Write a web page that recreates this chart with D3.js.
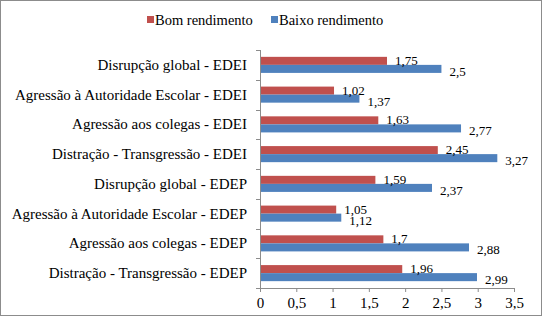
<!DOCTYPE html>
<html>
<head>
<meta charset="utf-8">
<script src="https://cdn.jsdelivr.net/npm/d3@7"></script>
</head>
<body style="margin:0">
<div id="chart"></div>
<script>
// data
var categories = [
  "Disrupção global - EDEI",
  "Agressão à Autoridade Escolar - EDEI",
  "Agressão aos colegas - EDEI",
  "Distração - Transgressão - EDEI",
  "Disrupção global - EDEP",
  "Agressão à Autoridade Escolar - EDEP",
  "Agressão aos colegas - EDEP",
  "Distração - Transgressão - EDEP"
];
var bom = [1.75, 1.02, 1.63, 2.45, 1.59, 1.05, 1.7, 1.96];
var baixo = [2.5, 1.37, 2.77, 3.27, 2.37, 1.12, 2.88, 2.99];
var seriesNames = ["Bom rendimento", "Baixo rendimento"];
var xTicks = [0, 0.5, 1, 1.5, 2, 2.5, 3, 3.5];

var width = 542, height = 316;
var margin = {top: 50, right: 28, bottom: 28, left: 260};
var colours = ["#C0504D", "#4F81BD"];
var font = "Liberation Serif";
var fmt = function(v) { return String(v).replace(".", ","); };

var svg = d3.select("#chart")
    .append("svg")
    .attr("width", width)
    .attr("height", height);

// outer frame
svg.append("rect")
    .attr("x", 0.5).attr("y", 0.5)
    .attr("width", width - 1).attr("height", height - 1)
    .attr("fill", "#fff")
    .attr("stroke", "#8c8c8c");

var x_scale = d3.scaleLinear()
    .domain([0, 3.5])
    .range([margin.left, width - margin.right]);

var y_scale = d3.scaleBand()
    .domain(categories)
    .range([margin.top, height - margin.bottom])
    .paddingInner(0.46)
    .paddingOuter(0.23);

var sub = d3.scaleBand()
    .domain([0, 1])
    .range([0, y_scale.bandwidth()]);

var rows = categories.map(function(c, i) {
  return {cat: c, vals: [bom[i], baixo[i]]};
});

var g = svg.selectAll(".row")
    .data(rows)
    .enter().append("g")
    .attr("transform", function(d) { return "translate(0," + y_scale(d.cat) + ")"; });

g.selectAll("rect")
    .data(function(d) { return d.vals; })
    .enter().append("rect")
    .attr("x", x_scale(0))
    .attr("y", function(d, i) { return sub(i); })
    .attr("width", function(d) { return x_scale(d) - x_scale(0); })
    .attr("height", sub.bandwidth())
    .attr("fill", function(d, i) { return colours[i]; });

g.selectAll(".val")
    .data(function(d) { return d.vals; })
    .enter().append("text")
    .attr("class", "val")
    .attr("x", function(d) { return x_scale(d) + 8; })
    .attr("y", function(d, i) { return sub(i) + sub.bandwidth() / 2 + (i ? 7 : 4); })
    .style("font-family", font)
    .style("font-size", "13px")
    .text(fmt);

// y axis
var yAxis = svg.append("g")
    .attr("transform", "translate(" + margin.left + ",0)");
yAxis.append("line")
    .attr("x1", 0.5).attr("x2", 0.5)
    .attr("y1", margin.top).attr("y2", height - margin.bottom)
    .attr("stroke", "#8c8c8c");
var step = y_scale.step();
var tickYs = d3.range(categories.length + 1).map(function(i) {
  return y_scale(categories[0]) - step * y_scale.paddingInner() / 2 + i * step;
});
yAxis.selectAll(".yt")
    .data(tickYs)
    .enter().append("line")
    .attr("x1", -4).attr("x2", 0)
    .attr("y1", function(d) { return Math.round(d) + 0.5; })
    .attr("y2", function(d) { return Math.round(d) + 0.5; })
    .attr("stroke", "#8c8c8c");
yAxis.selectAll(".yl")
    .data(categories)
    .enter().append("text")
    .attr("x", -13)
    .attr("y", function(d) { return y_scale(d) + y_scale.bandwidth() / 2 + 5; })
    .attr("text-anchor", "end")
    .style("font-family", font)
    .style("font-size", "15px")
    .text(function(d) { return d; });

// x axis
var xAxis = svg.append("g")
    .attr("transform", "translate(0," + (height - margin.bottom) + ")")
    .call(d3.axisBottom(x_scale).tickValues(xTicks).tickSize(4).tickSizeOuter(0).tickFormat(fmt));
xAxis.select(".domain").attr("stroke", "#8c8c8c");
xAxis.selectAll(".tick line").attr("stroke", "#8c8c8c");
xAxis.selectAll(".tick text")
    .attr("y", 9)
    .style("font-family", font)
    .style("font-size", "15px")
    .attr("fill", "#000");

// legend
var legend = svg.append("g");
var legX = [147, 271];
seriesNames.forEach(function(name, i) {
  legend.append("rect")
      .attr("x", legX[i]).attr("y", 16)
      .attr("width", 7).attr("height", 7)
      .attr("fill", colours[i]);
  legend.append("text")
      .attr("x", legX[i] + 8).attr("y", 25)
      .style("font-family", font)
      .style("font-size", "14.5px")
      .text(name);
});
</script>
</body>
</html>
